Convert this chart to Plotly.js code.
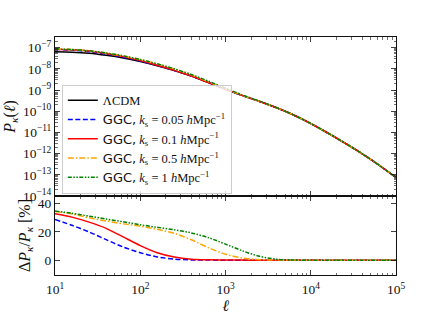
<!DOCTYPE html>
<html>
<head>
<meta charset="utf-8">
<script src="https://cdn.plot.ly/plotly-3.0.1.min.js"></script>
<style>
html,body{margin:0;padding:0;background:#fff;}
#plot{width:440px;height:315px;}
</style>
</head>
<body>
<div id="plot"></div>
<script>
// multipole values
const ell = [10, 15.8, 25.1, 39.8, 63.1, 100, 158, 251, 398, 631, 1000, 1585, 2512, 3981, 6310, 10000, 15849, 25119, 39811, 63096, 100000];

// convergence power spectra P_kappa(ell)
const pLCDM = [6.38e-8, 6.11e-8, 5.40e-8, 4.31e-8, 3.23e-8, 2.20e-8, 1.40e-8, 8.22e-9, 4.51e-9, 2.24e-9, 1.09e-9, 5.43e-10, 2.88e-10, 1.45e-10, 6.59e-11, 2.62e-11, 9.35e-12, 3.15e-12, 1.01e-12, 2.89e-13, 7.44e-14];
const pK005 = [8.21e-8, 7.61e-8, 6.48e-8, 4.94e-8, 3.54e-8, 2.32e-8, 1.44e-8, 8.31e-9, 4.53e-9, 2.25e-9, 1.09e-9, 5.45e-10, 2.89e-10, 1.45e-10, 6.61e-11, 2.63e-11, 9.38e-12, 3.16e-12, 1.01e-12, 2.90e-13, 7.46e-14];
const pK01  = [8.47e-8, 7.96e-8, 6.85e-8, 5.28e-8, 3.76e-8, 2.43e-8, 1.48e-8, 8.43e-9, 4.56e-9, 2.25e-9, 1.10e-9, 5.45e-10, 2.89e-10, 1.45e-10, 6.61e-11, 2.63e-11, 9.38e-12, 3.16e-12, 1.01e-12, 2.90e-13, 7.46e-14];
const pK05  = [8.56e-8, 8.10e-8, 7.01e-8, 5.50e-8, 4.06e-8, 2.73e-8, 1.71e-8, 9.78e-9, 5.16e-9, 2.44e-9, 1.14e-9, 5.53e-10, 2.90e-10, 1.46e-10, 6.61e-11, 2.63e-11, 9.38e-12, 3.16e-12, 1.01e-12, 2.90e-13, 7.46e-14];
const pK1   = [8.58e-8, 8.13e-8, 7.07e-8, 5.56e-8, 4.10e-8, 2.75e-8, 1.72e-8, 9.99e-9, 5.38e-9, 2.60e-9, 1.22e-9, 5.80e-10, 2.97e-10, 1.46e-10, 6.62e-11, 2.63e-11, 9.38e-12, 3.16e-12, 1.01e-12, 2.90e-13, 7.46e-14];

// relative difference Delta P / P [%]
const dK005 = [28.7, 24.6, 20.0, 14.6, 9.5, 5.5, 2.6, 1.1, 0.5, 0.4, 0.3, 0.3, 0.3, 0.3, 0.3, 0.3, 0.3, 0.3, 0.3, 0.3, 0.3];
const dK01  = [32.7, 30.3, 26.8, 22.5, 16.5, 10.5, 5.5, 2.5, 1.0, 0.6, 0.5, 0.4, 0.3, 0.3, 0.3, 0.3, 0.3, 0.3, 0.3, 0.3, 0.3];
const dK05  = [34.2, 32.5, 29.8, 27.6, 25.6, 24.0, 21.8, 19.0, 14.5, 9.0, 4.5, 1.8, 0.7, 0.4, 0.3, 0.3, 0.3, 0.3, 0.3, 0.3, 0.3];
const dK1   = [34.5, 33.0, 31.0, 29.0, 27.0, 25.0, 23.2, 21.5, 19.3, 16.0, 11.5, 6.8, 3.0, 1.0, 0.4, 0.3, 0.3, 0.3, 0.3, 0.3, 0.3];

// tick labels
const xTickVals = [10, 100, 1000, 10000, 100000];
const xTickText = ['10<sup>1</sup>', '10<sup>2</sup>', '10<sup>3</sup>', '10<sup>4</sup>', '10<sup>5</sup>'];
const yTickVals = [1e-14, 1e-13, 1e-12, 1e-11, 1e-10, 1e-9, 1e-8, 1e-7];
const yTickText = ['10<sup>−14</sup>', '10<sup>−13</sup>', '10<sup>−12</sup>', '10<sup>−11</sup>', '10<sup>−10</sup>', '10<sup>−9</sup>', '10<sup>−8</sup>', '10<sup>−7</sup>'];
const y2TickVals = [0, 20, 40];
const y2TickText = ['0', '20', '40'];

const ggc = '<span style="font-family:DejaVu Sans;font-size:13px">GGC,</span> ';
const seriesNames = [
  'ΛCDM',
  ggc + '<i>k</i><sub>s</sub> = 0.05 <i>h</i>Mpc<sup>−1</sup>',
  ggc + '<i>k</i><sub>s</sub> = 0.1 <i>h</i>Mpc<sup>−1</sup>',
  ggc + '<i>k</i><sub>s</sub> = 0.5 <i>h</i>Mpc<sup>−1</sup>',
  ggc + '<i>k</i><sub>s</sub> = 1 <i>h</i>Mpc<sup>−1</sup>'
];
const colors = ['#000000', '#0000ff', '#ff0000', '#ffa500', '#008000'];
const dashes = ['solid', '5px,2.5px', 'solid', '6px,2px,1.5px,2px', '4px,1.5px,1.5px,1.5px,1.5px,1.5px'];

// minor tick positions (axis decoration)
const minorX = [];
for (let e = 1; e < 5; e++) for (let m = 2; m <= 9; m++) minorX.push(m * Math.pow(10, e));
const minorY = [];
for (let e = -14; e < -6; e++) for (let m = 2; m <= 9; m++) minorY.push(m * Math.pow(10, e));

const topP = [pLCDM, pK005, pK01, pK05, pK1];
const botD = [null, dK005, dK01, dK05, dK1];

const traces = [];
for (let i = 0; i < 5; i++) {
  traces.push({
    x: ell, y: topP[i], xaxis: 'x2', yaxis: 'y', type: 'scatter', mode: 'lines',
    name: seriesNames[i],
    line: {color: colors[i], width: 1.5, dash: dashes[i], shape: 'spline', smoothing: 0.8}
  });
}
for (let i = 1; i < 5; i++) {
  traces.push({
    x: ell, y: botD[i], xaxis: 'x', yaxis: 'y2', type: 'scatter', mode: 'lines',
    showlegend: false,
    line: {color: colors[i], width: 1.5, dash: dashes[i], shape: 'spline', smoothing: 0.8}
  });
}

const serif = 'Liberation Serif, DejaVu Serif, serif';
const split = 0.3319;
const ink = '#111';
const common = {
  showline: true, linecolor: ink, linewidth: 1, mirror: 'ticks',
  ticks: 'inside', ticklen: 5, tickwidth: 0.8, tickcolor: ink,
  showgrid: false, zeroline: false,
  tickfont: {family: serif, size: 13.5, color: ink}
};
const minorStyle = {ticks: 'inside', ticklen: 2.5, tickwidth: 0.6, tickcolor: ink};

const layout = {
  width: 440, height: 315,
  margin: {l: 55, r: 44, t: 37, b: 40, pad: 0},
  paper_bgcolor: '#fff', plot_bgcolor: '#fff',
  showlegend: true,
  font: {family: serif, color: ink},
  xaxis: Object.assign({}, common, {
    type: 'log', range: [1, 5], anchor: 'y2', domain: [0, 1],
    tickmode: 'array', tickvals: xTickVals, ticktext: xTickText, ticklabelstandoff: 2,
    minor: Object.assign({tickmode: 'array', tickvals: minorX}, minorStyle),
    title: {text: '<i>ℓ</i>', font: {family: serif, size: 16, color: ink}, standoff: 2}
  }),
  xaxis2: Object.assign({}, common, {
    type: 'log', range: [1, 5], anchor: 'y', matches: 'x', domain: [0, 1],
    tickmode: 'array', tickvals: xTickVals, ticktext: xTickText, showticklabels: false,
    minor: Object.assign({tickmode: 'array', tickvals: minorX}, minorStyle)
  }),
  yaxis: Object.assign({}, common, {
    type: 'log', range: [-14, -6.5], anchor: 'x2', domain: [split, 1],
    tickmode: 'array', tickvals: yTickVals, ticktext: yTickText,
    minor: Object.assign({tickmode: 'array', tickvals: minorY}, minorStyle),
    title: {text: '<i>P</i><sub><i>κ</i></sub>(<i>ℓ</i>)', font: {family: serif, size: 16, color: ink}, standoff: 3}
  }),
  yaxis2: Object.assign({}, common, {
    range: [-10, 45], anchor: 'x', domain: [0, split],
    tickmode: 'array', tickvals: y2TickVals, ticktext: y2TickText,
    title: {text: 'Δ<i>P</i><sub><i>κ</i></sub>/<i>P</i><sub><i>κ</i></sub> [%]', font: {family: serif, size: 16, color: ink}, standoff: 3}
  }),
  legend: {
    x: 0.02, y: 0.80, xanchor: 'left', yanchor: 'top',
    bgcolor: 'rgba(255,255,255,0.8)', bordercolor: '#cccccc', borderwidth: 1,
    font: {family: serif, size: 12.5, color: ink}
  }
};

Plotly.newPlot('plot', traces, layout, {displayModeBar: false, staticPlot: true});
</script>
</body>
</html>
